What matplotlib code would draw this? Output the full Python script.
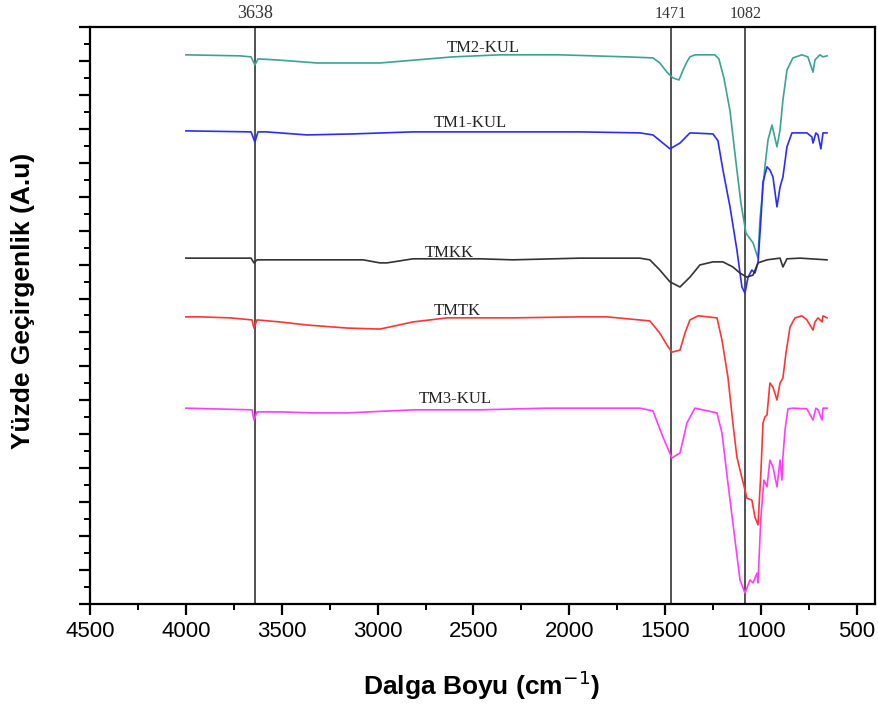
import numpy as np
import matplotlib
matplotlib.use("Agg")
import matplotlib.pyplot as plt
from matplotlib.ticker import MultipleLocator, NullFormatter
from matplotlib.transforms import blended_transform_factory

# FTIR spektrumlari (dalga sayisi cm-1, kaydirilmis gecirgenlik a.u.)
tm2_w = [4000, 3718, 3660, 3640, 3624, 3525, 3316, 2988, 2607, 2362, 2049, 1700,
         1564, 1528, 1491, 1460, 1428, 1407, 1387, 1371, 1345, 1241, 1220, 1194, 1162, 1131, 1105,
         1079, 1042, 1016, 1006, 980, 964, 943, 917, 901, 886, 865, 834, 787, 756,
         729, 719, 693, 677, 656]
tm2_y = [16.18, 16.15, 16.12, 15.88, 16.06, 16.03, 15.94, 15.94, 16.12, 16.18, 16.18, 16.12,
         16.09, 15.94, 15.67, 15.50, 15.44, 15.73, 15.97, 16.12, 16.18, 16.18, 16.06, 15.50, 14.53, 13.02, 11.81,
         10.93, 10.64, 10.19, 11.31, 12.88, 13.67, 14.11, 13.47, 13.97, 14.85, 15.73, 16.09,
         16.18, 16.12, 15.67, 16.03, 16.18, 16.12, 16.15]

tm1_w = [4000, 3660, 3640, 3624, 3580, 3368, 3130, 2816, 1945, 1632, 1564, 1475,
         1423, 1371, 1251, 1225, 1199, 1162, 1126, 1100, 1084, 1068, 1048, 1032,
         1016, 1001, 990, 969, 954, 938, 917, 901, 886, 865, 839, 761, 735, 729,
         714, 703, 688, 677, 656]
tm1_y = [13.94, 13.91, 13.61, 13.91, 13.91, 13.82, 13.85, 13.91, 13.91, 13.88, 13.82, 13.41,
         13.58, 13.88, 13.85, 13.65, 12.79, 11.70, 10.43, 9.34, 9.16, 9.63, 9.84, 9.75,
         10.05, 11.31, 12.43, 12.88, 12.79, 12.58, 11.70, 12.29, 12.58, 13.47, 13.88, 13.88,
         13.76, 13.58, 13.88, 13.82, 13.41, 13.88, 13.88]

tmkk_w = [4000, 3660, 3645, 3629, 3076, 2988, 2951, 2816, 2466, 2294, 1945, 1632,
          1580, 1528, 1475, 1423, 1371, 1319, 1251, 1199, 1147, 1110, 1074, 1042,
          1016, 969, 901, 886, 865, 797, 656]
tmkk_y = [10.19, 10.19, 10.05, 10.14, 10.14, 10.05, 10.05, 10.17, 10.17, 10.14, 10.19, 10.19,
          10.14, 9.84, 9.49, 9.34, 9.63, 9.99, 10.08, 10.08, 9.93, 9.75, 9.63, 9.69,
          10.05, 10.14, 10.19, 9.93, 10.17, 10.19, 10.14]

tmtk_w = [4000, 3926, 3770, 3655, 3645, 3629, 3509, 3368, 3160, 2988, 2816, 2638,
          2294, 1945, 1804, 1580, 1528, 1491, 1465, 1423, 1397, 1371, 1328, 1230, 1204, 1173,
          1147, 1126, 1110, 1084, 1074, 1048, 1032, 1016, 1001, 990, 980, 969,
          954, 938, 917, 901, 886, 870, 849, 823, 787, 761, 729, 719, 703, 682, 677, 656]
tmtk_y = [8.46, 8.46, 8.43, 8.37, 8.13, 8.37, 8.31, 8.22, 8.13, 8.10, 8.31, 8.43,
          8.43, 8.46, 8.46, 8.34, 7.98, 7.63, 7.42, 7.48, 7.98, 8.37, 8.49, 8.43, 7.78, 6.69,
          5.33, 4.33, 3.95, 3.36, 3.12, 3.06, 2.56, 2.33, 3.86, 5.33, 5.51, 5.57,
          6.51, 6.39, 6.01, 6.51, 6.66, 7.40, 8.16, 8.43, 8.49, 8.37, 8.07, 8.31, 8.43, 8.31, 8.49, 8.43]

tm3_w = [4000, 3655, 3645, 3629, 3509, 3336, 3160, 2816, 2466, 2121, 1632, 1564,
         1512, 1465, 1423, 1407, 1387, 1345, 1230, 1204, 1173, 1136, 1110, 1084, 1058,
         1042, 1021, 1016, 1001, 985, 969, 954, 938, 917, 901, 891, 886, 875, 860,
         834, 761, 729, 714, 703, 682, 677, 656]
tm3_y = [5.77, 5.72, 5.42, 5.66, 5.66, 5.63, 5.63, 5.72, 5.72, 5.77, 5.77, 5.69,
         4.92, 4.30, 4.45, 4.83, 5.33, 5.77, 5.63, 5.04, 3.57, 1.89, 0.71, 0.32, 0.71,
         0.62, 0.91, 0.62, 2.56, 3.65, 3.45, 4.24, 4.04, 3.45, 4.24, 3.65, 4.33,
         5.13, 5.75, 5.77, 5.75, 5.42, 5.77, 5.72, 5.42, 5.77, 5.77]

names = ["TM2-KUL", "TM1-KUL", "TMKK", "TMTK", "TM3-KUL"]
colors = ["#3aa396", "#2b2bff", "#333333", "#ff3535", "#ff3cff"]
# etiket konumlari (cm-1, a.u.)
label_x = [2450, 2518, 2628, 2586, 2596]
label_y = [16.26, 14.05, 10.22, 8.51, 5.92]

peaks = [3638, 1471, 1082]

series = [(tm2_w, tm2_y), (tm1_w, tm1_y), (tmkk_w, tmkk_y), (tmtk_w, tmtk_y), (tm3_w, tm3_y)]

fig = plt.figure(figsize=(8.79, 7.07), dpi=100)
ax = fig.add_axes([0.1024, 0.1457, 0.8930, 0.8161])

for pk in peaks:
    ax.axvline(pk, color="#444444", lw=1.3, zorder=1)

for (w, y), c in zip(series, colors):
    ax.plot(w, y, color=c, lw=1.2, zorder=2)

for name, lx, ly in zip(names, label_x, label_y):
    ax.text(lx, ly, name, ha="center", va="baseline", fontsize=12,
            family="Liberation Serif", color="#222222")

# tepe noktasi etiketleri cercevenin hemen ustunde
trans = blended_transform_factory(ax.transData, ax.transAxes)
peak_fs = [13, 11.5, 11.5]
for pk, fs in zip(peaks, peak_fs):
    ax.text(pk, 1.0156, str(pk), transform=trans, ha="center", va="baseline",
            fontsize=fs, family="Liberation Serif", color="#333333")

ax.set_xlim(4500, 406)
ax.set_ylim(0, 17)
ax.xaxis.set_major_locator(MultipleLocator(500))
ax.xaxis.set_minor_locator(MultipleLocator(250))
ax.yaxis.set_major_locator(MultipleLocator(1))
ax.yaxis.set_minor_locator(MultipleLocator(0.5))
ax.yaxis.set_major_formatter(NullFormatter())
ax.tick_params(which="major", direction="out", length=8, width=1.6, top=False, right=False)
ax.tick_params(which="minor", direction="out", length=4, width=1.4, top=False, right=False)
ax.tick_params(axis="x", labelsize=16, pad=4)
for lbl in ax.get_xticklabels():
    lbl.set_family("Liberation Sans")
for sp in ax.spines.values():
    sp.set_linewidth(1.6)

fig.text(0.026, 0.574, "Yüzde Geçirgenlik (A.u)", rotation=90, ha="center", va="center",
         fontsize=19, fontweight="bold", family="Liberation Sans")
fig.text(0.548, 0.031, "Dalga Boyu (cm$^{-1}$)", ha="center", va="center",
         fontsize=19, fontweight="bold", family="Liberation Sans")

fig.savefig("out.png", dpi=100)
